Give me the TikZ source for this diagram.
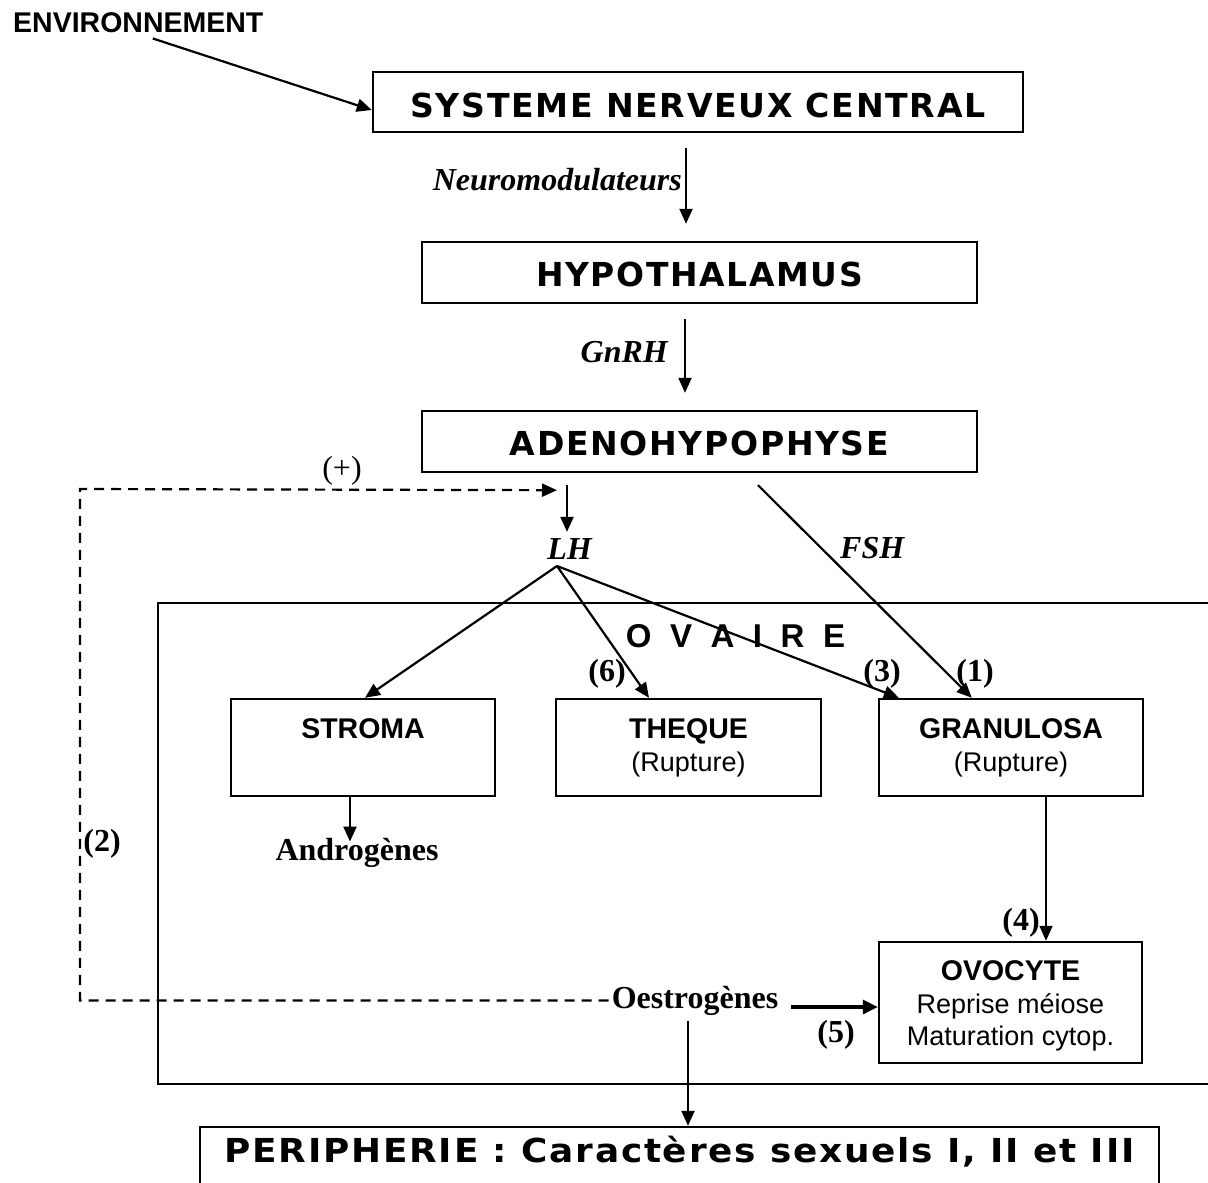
\documentclass[tikz,border=0pt]{standalone}
\usepackage{fontspec}
\usepackage{graphicx}
\setmainfont{Liberation Serif}
\setsansfont{Liberation Sans}
\newfontfamily\verd[LetterSpace=5]{DejaVu Sans}
\newfontfamily\arialbold{Liberation Sans Bold}
\usetikzlibrary{arrows.meta,calc}
\newcommand{\spread}[2]{\resizebox{#1}{\height}{#2}}
\begin{document}
\begin{tikzpicture}[x=1pt,y=-1pt,
  every node/.style={inner sep=0pt},
  box/.style={draw, line width=2.4pt, anchor=base},
  arr/.style={line width=2.2pt, -{Triangle[length=15pt,width=13pt]}},
  dsh/.style={line width=2.2pt, dash pattern=on 10pt off 7pt},
  vb/.style={font=\verd\bfseries\fontsize{33}{38}\selectfont},
  sb/.style={font=\sffamily\bfseries\fontsize{28.5}{33}\selectfont},
  ovt/.style={font=\arialbold\fontsize{33}{38}\selectfont},
  sr/.style={font=\sffamily\fontsize{27}{32}\selectfont},
  tbi/.style={font=\rmfamily\bfseries\itshape\fontsize{32}{36}\selectfont},
  tb/.style={font=\rmfamily\bfseries\fontsize{32}{36}\selectfont},
  tr/.style={font=\rmfamily\fontsize{32}{36}\selectfont},
]
\useasboundingbox (0,0) rectangle (1208,1183);

% main boxes
\node[box, vb, text height=45pt, text depth=15pt, minimum width=650pt] (snc) at (698,117) {\spread{575pt}{SYSTEME NERVEUX CENTRAL}};
\node[box, vb, text height=44pt, text depth=17pt, minimum width=555pt] (hypo) at (699.5,286) {\spread{327pt}{HYPOTHALAMUS}};
\node[box, vb, text height=44pt, text depth=17pt, minimum width=555pt] (adeno) at (699.5,455) {\spread{379pt}{ADENOHYPOPHYSE}};
\node[box, vb, text height=35pt, text depth=30pt, minimum width=959pt] (peri) at (679.5,1162) {\spread{910pt}{PERIPHERIE : Caractères sexuels I, II et III}};

% ovary frame
\node[draw, line width=2.4pt, minimum width=1058pt, minimum height=481pt] (ovaire) at (687,843.5) {};
\node[ovt, anchor=base] (ovtitle) at (735.5,647) {O\hspace{18.5pt}V\hspace{18.5pt}A\hspace{18.5pt}I\hspace{18.5pt}R\hspace{18.5pt}E};

% inner boxes
\node[box, sb, text height=39pt, text depth=58pt, minimum width=264pt] (stroma) at (363,738) {STROMA};
\node[box, sb, text height=39pt, text depth=58pt, minimum width=265pt] (theque) at (688.5,738) {THEQUE};
\node[box, sb, text height=39pt, text depth=58pt, minimum width=264pt] (gran) at (1011,738) {GRANULOSA};
\node[sr, anchor=base] (thr) at (688.5,771) {(Rupture)};
\node[sr, anchor=base] (grr) at (1011,771) {(Rupture)};
\node[box, sb, text height=38pt, text depth=83pt, minimum width=263pt] (ovo) at (1010.5,980) {OVOCYTE};
\node[sr, anchor=base] (ovo2) at (1010.5,1013) {Reprise méiose};
\node[sr, anchor=base] (ovo3) at (1010.5,1045) {Maturation cytop.};

% texts
\node[sb, anchor=base west] (env) at (13,32) {ENVIRONNEMENT};
\node[tbi, anchor=base east] (neuro) at (682,190) {Neuromodulateurs};
\node[tbi, anchor=base east] (gnrh) at (668,362) {GnRH};
\node[tbi, anchor=base] (lh) at (569.5,559) {LH};
\node[tbi, anchor=base west] (fsh) at (840,558) {FSH};
\node[tr, anchor=base] (plus) at (342,478) {(+)};
\node[tb, anchor=base] (n2) at (102,851) {(2)};
\node[tb, anchor=base] (n6) at (607,681) {(6)};
\node[tb, anchor=base] (n3) at (882,681) {(3)};
\node[tb, anchor=base] (n1) at (975,681) {(1)};
\node[tb, anchor=base] (n4) at (1021,930) {(4)};
\node[tb, anchor=base] (n5) at (836,1042) {(5)};
\node[tb, anchor=base] (andro) at (357,860) {Androgènes};
\node[tb, anchor=base] (oest) at (695,1008) {Oestrogènes};

% coordinates
\coordinate (lhfan) at ([xshift=-12.5pt,yshift=-7pt]lh.base);
\coordinate (lhin) at ([xshift=-142.5pt,yshift=-17pt]adeno.south);
\coordinate (dcorner) at (80,489);

% connectors
\draw[arr] ([xshift=14.5pt,yshift=-6pt]env.south) -- ([yshift=-8pt]snc.west);
\draw[arr] ([xshift=-12pt,yshift=-15pt]snc.south) -- ([xshift=-13.5pt,yshift=17pt]hypo.north);
\draw[arr] ([xshift=-14.5pt,yshift=-15pt]hypo.south) -- ([xshift=-14.5pt,yshift=17pt]adeno.north);
\draw[arr] ([xshift=-132.5pt,yshift=-12pt]adeno.south) -- ([xshift=-2.5pt,yshift=6pt]lh.north);
\draw[arr] ([xshift=58.5pt,yshift=-12pt]adeno.south) -- ([xshift=94pt]gran.north west);
\draw[arr] (lhfan) -- ([xshift=2pt]stroma.north);
\draw[arr] (lhfan) -- ([xshift=-39.5pt]theque.north);
\draw[arr] (lhfan) -- ([xshift=21pt]gran.north west);
\draw[dsh, -{Triangle[length=15pt,width=13pt]}] ([xshift=-3pt]oest.west) -| (dcorner) -- (lhin);
\draw[line width=3.2pt, -{Triangle[length=15pt,width=14pt]}] ($(oest.base east)+(13,-1)$) -- ($(oest.base east -| ovo.west)+(0,-1)$);
\draw[arr] ([xshift=-7pt,yshift=-13pt]oest.base) -- ([xshift=8.5pt]peri.north);
\draw[line width=1.6pt, -{Triangle[length=15pt,width=13pt]}] ([xshift=35pt]gran.south) -- ([xshift=35.5pt]ovo.north);
\draw[arr] ([xshift=-13pt]stroma.south) -- ([xshift=-7pt,yshift=-4pt]andro.north);
\end{tikzpicture}
\end{document}
